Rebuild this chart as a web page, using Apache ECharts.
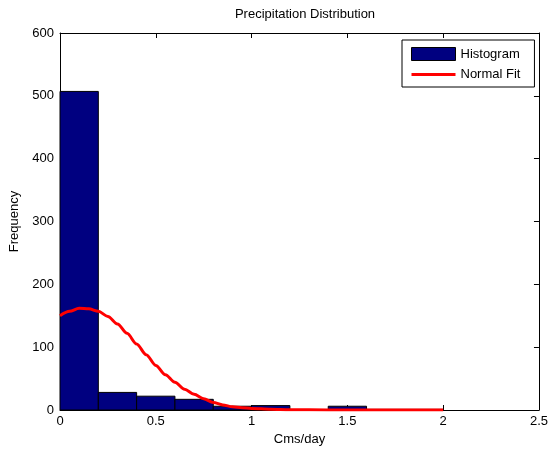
<!DOCTYPE html>
<html>
<head>
<meta charset="utf-8">
<script src="https://cdn.jsdelivr.net/npm/echarts@6/dist/echarts.min.js"></script>
<style>
  html, body { margin: 0; padding: 0; background: #fff; }
  #chart { width: 551px; height: 455px; }
</style>
</head>
<body>
<div id="chart"></div>
<script>
// histogram bins (Cms/day) and counts
const binEdges = [0, 0.2, 0.4, 0.6, 0.8, 1.0, 1.2, 1.4, 1.6, 1.8, 2.0];
const binCounts = [507, 28, 22, 17, 6, 7, 0, 6, 1, 1];

// normal fit curve
const fitX = [0, 0.05, 0.1, 0.15, 0.2, 0.25, 0.3, 0.35, 0.4, 0.45, 0.5, 0.55, 0.6, 0.65, 0.7, 0.75, 0.8, 0.85, 0.9, 0.95, 1.0, 1.1, 1.2, 1.4, 1.7, 2.0];
const fitY = [150, 157, 162, 161, 157, 149, 137, 122, 105, 88, 71, 56, 44, 33, 25, 18, 12, 8, 5, 3.5, 2.5, 1.2, 0.5, 0, 0, 0];

const xTicks = [0, 0.5, 1, 1.5, 2, 2.5];
const yTicks = [0, 100, 200, 300, 400, 500, 600];

const FONT = 'Liberation Sans, Arial, sans-serif';
const chart = echarts.init(document.getElementById('chart'));

const histData = binCounts.map((c, i) => [binEdges[i], binEdges[i + 1], c]);
const fitData = fitX.map((x, i) => [x, fitY[i]]);

const tickAxis = {
    axisLine: { show: true, onZero: false, lineStyle: { color: '#000', width: 1 } },
    axisTick: { show: true, inside: true, length: 5, lineStyle: { color: '#000' } },
    splitLine: { show: false }
};

const option = {
    animation: false,
    backgroundColor: '#fff',
    textStyle: { fontFamily: FONT },
    title: {
        text: 'Precipitation Distribution',
        left: 300,
        textAlign: 'center',
        top: 3,
        textStyle: { fontFamily: FONT, fontSize: 13, fontWeight: 'normal', color: '#000' }
    },
    legend: {
        left: 402,
        top: 40,
        orient: 'vertical',
        itemWidth: 44,
        itemHeight: 13,
        itemGap: 7,
        padding: [7, 14, 6, 9],
        borderColor: '#000',
        borderWidth: 1,
        backgroundColor: '#fff',
        textStyle: { fontFamily: FONT, fontSize: 13, color: '#000' },
        data: [
            { name: 'Histogram', icon: 'rect', itemStyle: { color: '#000080', borderColor: '#000', borderWidth: 1 } },
            { name: 'Normal Fit', icon: 'path://M0,0 L44,0 L44,3 L0,3 Z', itemStyle: { color: '#ff0000', borderWidth: 0 } }
        ]
    },
    grid: { left: 60, right: 11, top: 33, bottom: 45 },
    xAxis: [
        Object.assign({
            type: 'value', min: 0, max: 2.5, interval: 0.5,
            name: 'Cms/day', nameLocation: 'middle', nameGap: 20,
            nameTextStyle: { fontFamily: FONT, fontSize: 13, color: '#000' },
            axisLabel: { color: '#000', fontSize: 13, margin: 5, fontFamily: FONT,
                formatter: v => xTicks.includes(v) ? String(v) : '' }
        }, tickAxis),
        Object.assign({
            type: 'value', min: 0, max: 2.5, interval: 0.5, position: 'top',
            axisLabel: { show: false }
        }, tickAxis)
    ],
    yAxis: [
        Object.assign({
            type: 'value', min: 0, max: 600, interval: 100,
            name: 'Frequency', nameLocation: 'middle', nameGap: 30,
            nameTextStyle: { fontFamily: FONT, fontSize: 13, color: '#000' },
            axisLabel: { color: '#000', fontSize: 13, margin: 6, fontFamily: FONT,
                formatter: v => yTicks.includes(v) ? String(v) : '' }
        }, tickAxis),
        Object.assign({
            type: 'value', min: 0, max: 600, interval: 100, position: 'right',
            axisLabel: { show: false }
        }, tickAxis)
    ],
    series: [
        {
            name: 'Histogram',
            type: 'custom',
            xAxisIndex: 0,
            yAxisIndex: 0,
            itemStyle: { color: '#000080' },
            encode: { x: [0, 1], y: 2 },
            renderItem: function (params, api) {
                const p0 = api.coord([api.value(0), api.value(2)]);
                const p1 = api.coord([api.value(1), 0]);
                return {
                    type: 'rect',
                    shape: { x: p0[0], y: p0[1], width: p1[0] - p0[0], height: p1[1] - p0[1] },
                    style: { fill: '#000080', stroke: '#000', lineWidth: 1 }
                };
            },
            data: histData
        },
        {
            name: 'Normal Fit',
            type: 'line',
            smooth: 0.3,
            smoothMonotone: 'x',
            symbol: 'none',
            xAxisIndex: 0,
            yAxisIndex: 0,
            lineStyle: { color: '#ff0000', width: 3 },
            itemStyle: { color: '#ff0000' },
            data: fitData,
            z: 5
        }
    ]
};

chart.setOption(option);
</script>
</body>
</html>
